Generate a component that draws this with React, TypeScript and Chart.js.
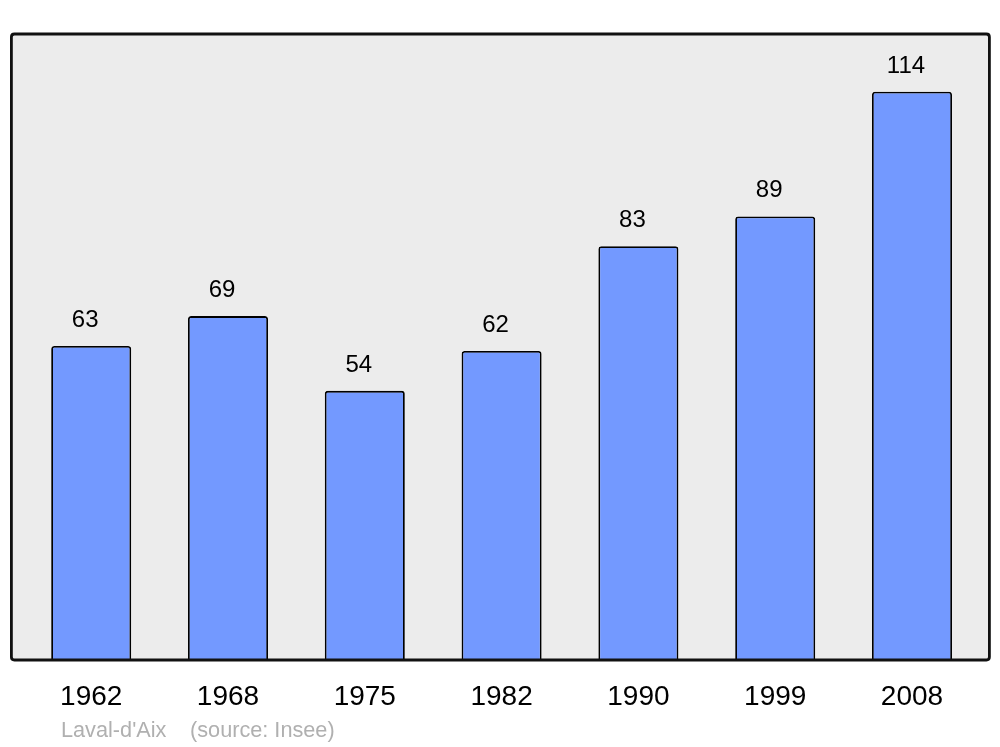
import React, { useEffect, useRef } from "react";
import { Chart, registerables } from "chart.js";

Chart.register(...registerables);

const categories = ["1962", "1968", "1975", "1982", "1990", "1999", "2008"];
const populations = [63, 69, 54, 62, 83, 89, 114];
const footerPlace = "Laval-d'Aix";
const footerSource = "(source: Insee)";

const FONT = "'Liberation Sans', Arial, sans-serif";

function roundRect(ctx: CanvasRenderingContext2D, x: number, y: number, w: number, h: number, r: number) {
  ctx.beginPath();
  ctx.moveTo(x + r, y);
  ctx.lineTo(x + w - r, y);
  ctx.quadraticCurveTo(x + w, y, x + w, y + r);
  ctx.lineTo(x + w, y + h - r);
  ctx.quadraticCurveTo(x + w, y + h, x + w - r, y + h);
  ctx.lineTo(x + r, y + h);
  ctx.quadraticCurveTo(x, y + h, x, y + h - r);
  ctx.lineTo(x, y + r);
  ctx.quadraticCurveTo(x, y, x + r, y);
  ctx.closePath();
}

const framePlugin = {
  id: "frame",
  beforeDatasetsDraw(chart: any) {
    const { ctx, chartArea } = chart;
    const x0 = chartArea.left - 11.4;
    const x1 = chartArea.right + 9;
    ctx.save();
    roundRect(ctx, x0, chartArea.top, x1 - x0, chartArea.bottom - chartArea.top, 3);
    ctx.fillStyle = "#ececec";
    ctx.fill();
    ctx.restore();
  },
  afterDatasetsDraw(chart: any) {
    const { ctx, chartArea } = chart;
    const x0 = chartArea.left - 11.4;
    const x1 = chartArea.right + 9;
    ctx.save();
    roundRect(ctx, x0, chartArea.top, x1 - x0, chartArea.bottom - chartArea.top, 3);
    ctx.strokeStyle = "#111";
    ctx.lineWidth = 2.8;
    ctx.stroke();

    // value labels
    const meta = chart.getDatasetMeta(0);
    ctx.fillStyle = "#000";
    ctx.font = `24px ${FONT}`;
    ctx.textAlign = "center";
    ctx.textBaseline = "alphabetic";
    meta.data.forEach((bar: any, i: number) => {
      ctx.fillText(String(chart.data.datasets[0].data[i]), bar.x - 6, bar.y - 19);
    });

    // footer
    ctx.fillStyle = "#b0b0b0";
    ctx.font = `21.7px ${FONT}`;
    ctx.textAlign = "left";
    ctx.fillText(footerPlace, 61, 737);
    ctx.fillText(footerSource, 190, 737);
    ctx.restore();
  },
};

export default function App() {
  const ref = useRef<HTMLCanvasElement | null>(null);
  useEffect(() => {
    if (!ref.current) return;
    const chart = new Chart(ref.current, {
      type: "bar",
      data: {
        labels: categories,
        datasets: [
          {
            data: populations,
            backgroundColor: "#7399ff",
            borderColor: "#000",
            borderWidth: 1.8,
            borderRadius: { topLeft: 3, topRight: 3, bottomLeft: 0, bottomRight: 0 },
            borderSkipped: "bottom",
            barPercentage: 0.585,
            categoryPercentage: 1,
          },
        ],
      },
      options: {
        responsive: false,
        animation: false,
        devicePixelRatio: 1,
        layout: { padding: { left: 22.8, right: 19.6, top: 34, bottom: 0 } },
        plugins: { legend: { display: false }, tooltip: { enabled: false } },
        scales: {
          x: {
            grid: { display: false },
            border: { display: false },
            ticks: {
              color: "#000",
              font: { family: FONT, size: 28 },
              padding: 12,
              maxRotation: 0,
              autoSkip: false,
            },
            afterFit: (s: any) => {
              s.height = 87;
            },
          },
          y: { display: false, min: 0, max: 125.6 },
        },
      },
      plugins: [framePlugin],
    });
    return () => chart.destroy();
  }, []);
  return (
    <div style={{ position: "fixed", left: 0, top: 0, width: 1000, height: 747, background: "#fff" }}>
      <canvas ref={ref} width={1000} height={747} />
    </div>
  );
}
